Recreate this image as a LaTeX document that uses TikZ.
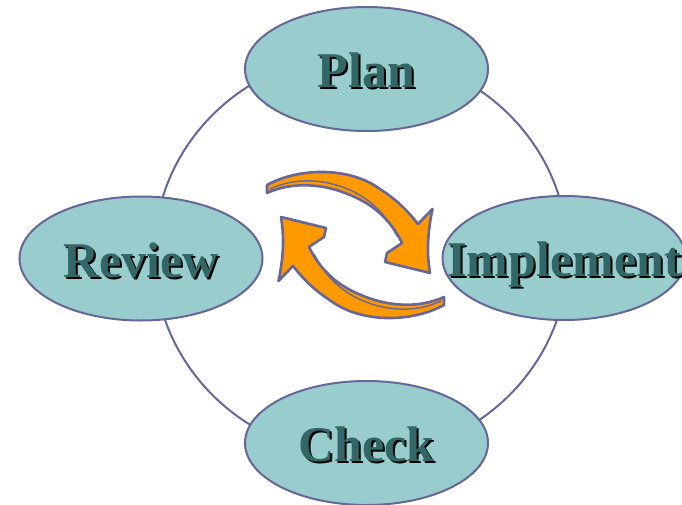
\documentclass[tikz,border=0pt]{standalone}
\usepackage{fontspec}
\setmainfont{Liberation Serif}
\usetikzlibrary{shapes.geometric}
\definecolor{fillc}{HTML}{99CCCC}
\definecolor{linec}{HTML}{666699}
\definecolor{txtc}{HTML}{336666}
\definecolor{arrc}{HTML}{FF9900}
\newcommand\shtext[1]{\makebox[0pt]{\rlap{\hspace{2pt}\raisebox{-2pt}{\color{black}#1}}\textcolor{txtc}{#1}}}
\tikzset{
  cycarrow/.pic={
    \draw[cyc] (-88.5,-60)
      .. controls (-55.5,-78) and (-5.5,-78) .. (24.5,-56)
      .. controls (44.5,-43) and (54.5,-31) .. (62.5,-21)
      -- (77,-36)
      .. controls (71.5,-10) and (71.5,10) .. (74.5,28)
      -- (29.5,17) -- (31.5,8) -- (46.5,-2)
      .. controls (36.5,-23) and (19.5,-40) .. (-5.5,-50)
      .. controls (-30.5,-61) and (-62.5,-64) .. (-88.5,-52) -- cycle;
    \draw[ribbon] (-85.5,-56)
      .. controls (-60.5,-68) and (-30.5,-66) .. (-5.5,-55)
      .. controls (16.5,-45) and (30.5,-30) .. (41.5,-9);
  }
}
\begin{document}
\begin{tikzpicture}[x=1pt,y=-1pt,
  stage/.style={ellipse, draw=linec, line width=2pt, fill=fillc,
    minimum width=243pt, minimum height=124pt, inner sep=0pt,
    text height=37pt, text depth=0pt,
    font=\fontsize{50}{60}\selectfont\bfseries},
  ring/.style={draw=linec, line width=2pt},
  cyc/.style={draw=linec, line width=2.6pt, fill=arrc, line join=round},
  ribbon/.style={draw=linec, line width=1.4pt, line cap=round}]
\useasboundingbox (0,0) rectangle (682,505);
\draw[ring] (361,255) ellipse [x radius=207, y radius=201];
\node[stage] (plan) at (366.5,69) {\shtext{Plan}};
\node[stage] (impl) at (564,258) {\shtext{Implement}};
\node[stage] (check) at (366.5,443) {\shtext{Check}};
\node[stage] (review) at (141,258.5) {\shtext{Review}};
\pic at (355.5,245) {cycarrow};
\pic[rotate=180] at (355.5,245) {cycarrow};
\end{tikzpicture}
\end{document}
